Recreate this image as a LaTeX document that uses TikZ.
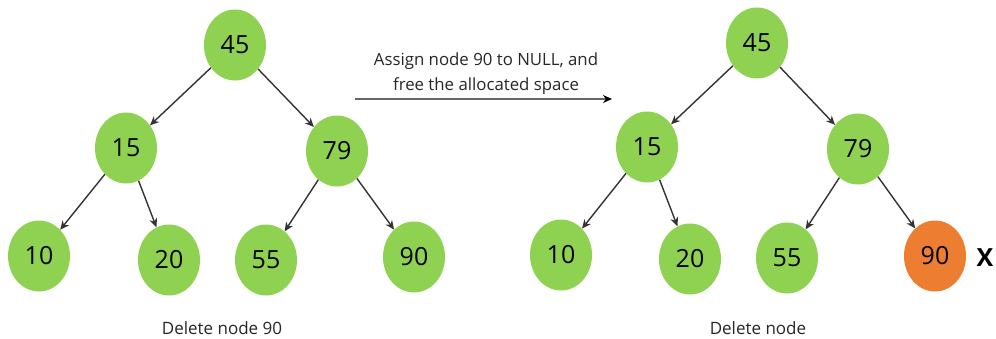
\documentclass[tikz,border=0pt]{standalone}
\usepackage{fontspec}
\setmainfont{Open Sans}
\usetikzlibrary{arrows.meta,shapes.geometric}
\definecolor{ngreen}{HTML}{8FD150}
\definecolor{norange}{HTML}{ED7D31}
\definecolor{edgegray}{HTML}{333333}
\begin{document}
\begin{tikzpicture}[x=1pt,y=-1pt,
  tnode/.style={ellipse,fill=ngreen,minimum width=62pt,minimum height=71pt,inner sep=0pt,font=\fontsize{25}{27}\selectfont},
  delnode/.style={tnode,fill=norange},
  edge/.style={-{Stealth[length=9pt,width=8pt]},draw=edgegray,line width=1.4pt},
  caption/.style={font=\fontsize{17}{19}\selectfont,text=black!85}]
\useasboundingbox (0,0) rectangle (996,338);
% left tree
\node[tnode] (a45) at (235,45) {45};
\node[tnode] (a15) at (126,148) {15};
\node[tnode] (a79) at (337,151) {79};
\node[tnode] (a10) at (39,256) {10};
\node[tnode] (a20) at (169,260) {20};
\node[tnode] (a55) at (266,260) {55};
\node[tnode] (a90) at (414,257) {90};
\draw[edge] (a45) -- (a15);
\draw[edge] (a45) -- (a79);
\draw[edge] (a15) -- (a10);
\draw[edge] (a15) -- (a20);
\draw[edge] (a79) -- (a55);
\draw[edge] (a79) -- (a90);
\node[caption] (capA) at (222,328) {Delete node 90};
% middle arrow
\coordinate (mstart) at (355,99);
\coordinate (mend) at (612,99);
\draw[draw=gray!80!black,line width=1.8pt,-{Stealth[length=9pt,width=8pt,color=black]}] (mstart) -- (mend);
\node[caption,align=center,font=\fontsize{16.8}{25}\selectfont] (mtext) at (486,74) {Assign node 90 to NULL, and\\free the allocated space};
% right tree
\node[tnode] (b45) at (757,43) {45};
\node[tnode] (b15) at (647,147) {15};
\node[tnode] (b79) at (858,149) {79};
\node[tnode] (b10) at (561,255) {10};
\node[tnode] (b20) at (690,259) {20};
\node[tnode] (b55) at (787,258) {55};
\node[delnode] (b90) at (935,256) {90};
\draw[edge] (b45) -- (b15);
\draw[edge] (b45) -- (b79);
\draw[edge] (b15) -- (b10);
\draw[edge] (b15) -- (b20);
\draw[edge] (b79) -- (b55);
\draw[edge] (b79) -- (b90);
\node[font=\fontsize{25}{27}\selectfont\bfseries] (xmark) at (985,258) {X};
\node[caption] (capB) at (758,328) {Delete node};
\end{tikzpicture}
\end{document}
